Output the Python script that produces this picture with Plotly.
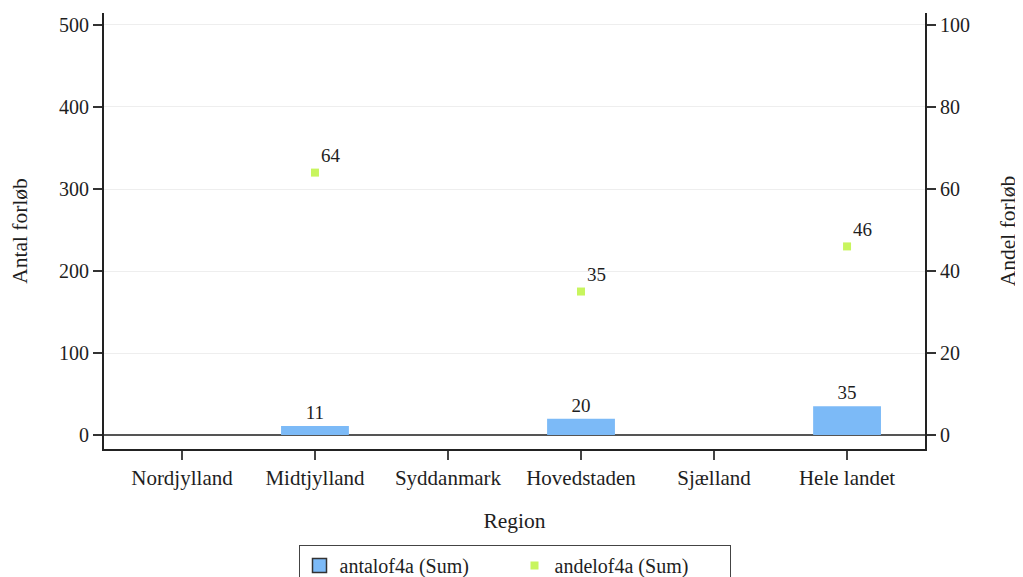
import plotly.graph_objects as go

regions = ["Nordjylland", "Midtjylland", "Syddanmark", "Hovedstaden", "Sjælland", "Hele landet"]
antal = [None, 11, None, 20, None, 35]
andel = [None, 64, None, 35, None, 46]
left_ticks = [0, 100, 200, 300, 400, 500]
right_ticks = [0, 20, 40, 60, 80, 100]

FONT = "Liberation Serif"
BAR_COLOR = "#7cbaf7"
DOT_COLOR = "#c8f55e"
TXT = "#1e1e1e"

fig = go.Figure()

fig.add_trace(go.Bar(
    x=regions, y=antal, name="antalof4a (Sum)",
    marker=dict(color=BAR_COLOR, line=dict(width=0)),
    width=0.51,
    text=[("" if v is None else str(v)) for v in antal],
    textposition="outside", textfont=dict(family=FONT, size=19, color=TXT),
    cliponaxis=False, showlegend=False,
))
# legend-only entry for bars (outlined square)
fig.add_trace(go.Scatter(
    x=[None], y=[None], mode="markers", name="antalof4a (Sum)",
    marker=dict(symbol="square", size=14, color=BAR_COLOR, line=dict(color="#333", width=1.5)),
))
fig.add_trace(go.Scatter(
    x=regions, y=andel, name="andelof4a (Sum)", yaxis="y2",
    mode="markers+text",
    marker=dict(symbol="square", size=8, color=DOT_COLOR),
    text=[("" if v is None else str(v)) for v in andel],
    textposition="top right", textfont=dict(family=FONT, size=19, color=TXT),
    cliponaxis=False,
))

# page body has an 8px default margin: figure is shifted by (8, 8)
fig.update_layout(
    width=1015, height=569,
    margin=dict(l=96, r=98, t=5, b=128, autoexpand=False),
    paper_bgcolor="white", plot_bgcolor="white",
    font=dict(family=FONT, size=20, color=TXT),
    showlegend=True,
    legend=dict(
        orientation="h", x=0.5, xanchor="center", y=-0.220, yanchor="top",
        bordercolor="#444", borderwidth=1, entrywidth=170,
        font=dict(family=FONT, size=20, color=TXT),
        itemsizing="trace",
    ),
    xaxis=dict(
        range=[-0.586, 5.586], showline=True, linecolor="#222", linewidth=2,
        ticks="outside", ticklen=9, tickcolor="#444", tickwidth=1.5,
        tickfont=dict(family=FONT, size=21), showgrid=False, automargin=False,
        title=dict(text="Region", standoff=24, font=dict(family=FONT, size=21.5)),
    ),
    yaxis=dict(
        range=[-17, 514.6], tickvals=left_ticks, showline=True, linecolor="#222", linewidth=2,
        ticks="outside", ticklen=9, tickcolor="#333", tickwidth=1.5,
        showgrid=True, gridcolor="#eeeeee", gridwidth=1,
        zeroline=True, zerolinecolor="#555", zerolinewidth=1.5,
        tickfont=dict(family=FONT, size=20), automargin=False,
        title=dict(text="Antal forløb", standoff=26, font=dict(family=FONT, size=21.5)),
    ),
    yaxis2=dict(
        range=[-3.4, 102.92], tickvals=right_ticks, overlaying="y", side="right",
        showline=True, linecolor="#222", linewidth=2,
        ticks="outside", ticklen=9, tickcolor="#333", tickwidth=1.5,
        showgrid=False, zeroline=False, automargin=False,
        tickfont=dict(family=FONT, size=20),
        title=dict(text="Andel forløb", standoff=31, font=dict(family=FONT, size=21.5)),
    ),
)

fig.write_html("out.html")
